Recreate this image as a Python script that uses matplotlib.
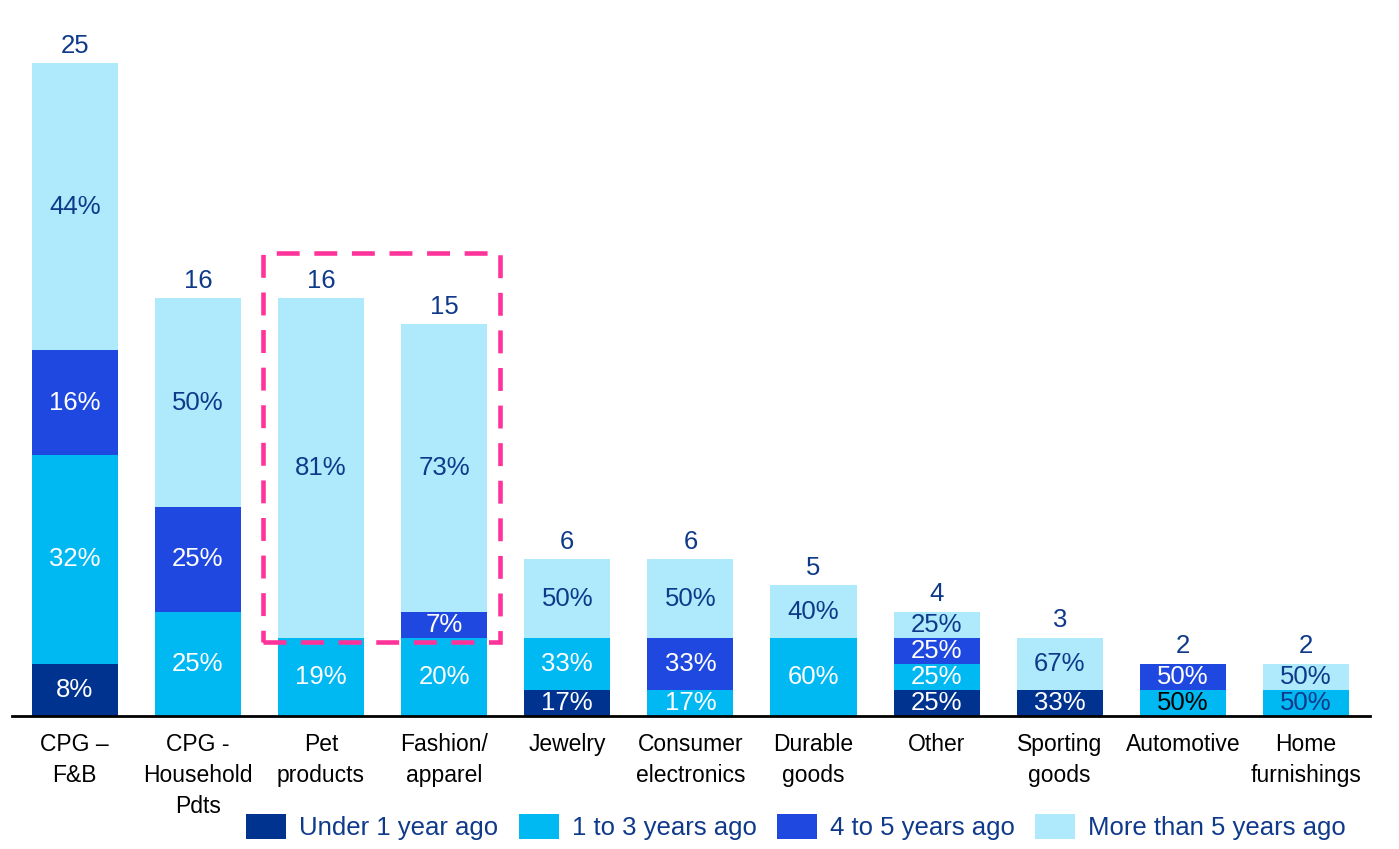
import numpy as np
import matplotlib.pyplot as plt
from matplotlib.patches import Rectangle

plt.rcParams['font.family'] = ['Liberation Sans', 'DejaVu Sans']

categories = ['CPG –\nF&B', 'CPG -\nHousehold\nPdts', 'Pet\nproducts', 'Fashion/\napparel',
              'Jewelry', 'Consumer\nelectronics', 'Durable\ngoods', 'Other',
              'Sporting\ngoods', 'Automotive', 'Home\nfurnishings']
series = ['Under 1 year ago', '1 to 3 years ago', '4 to 5 years ago', 'More than 5 years ago']

# number of companies per bucket
under_1 = [2, 0, 0, 0, 1, 0, 0, 1, 1, 0, 0]
one_to_3 = [8, 4, 3, 3, 2, 1, 3, 1, 0, 1, 1]
four_to_5 = [4, 4, 0, 1, 0, 2, 0, 1, 0, 1, 0]
over_5 = [11, 8, 13, 11, 3, 3, 2, 1, 2, 0, 1]

colors = ['#00338F', '#00B8F2', '#1F48E0', '#AEEAFC']
text_navy = '#0F3A8A'
fs = 18.5

data = np.array([under_1, one_to_3, four_to_5, over_5], dtype=float)
totals = data.sum(axis=0)

fig = plt.figure(figsize=(13.99, 8.49), dpi=100)
ax = fig.add_axes([12 / 1399, 133 / 849, 1358 / 1399, 705 / 849])

x = np.arange(len(categories))
width = 0.70
bottom = np.zeros(len(categories))
for i, (name, col) in enumerate(zip(series, colors)):
    vals = data[i]
    ax.bar(x, vals, width, bottom=bottom, color=col, label=name, linewidth=0)
    for j, v in enumerate(vals):
        if v == 0:
            continue
        pct = round(100 * v / totals[j])
        if i == 3:
            tc = text_navy
        elif i == 1 and categories[j] == 'Automotive':
            tc = 'black'
        elif i == 1 and categories[j] == 'Home\nfurnishings':
            tc = text_navy
        else:
            tc = 'white'
        ax.text(x[j], bottom[j] + v / 2, f'{pct}%', ha='center', va='center',
                fontsize=fs, color=tc)
    bottom += vals

for j, t in enumerate(totals):
    ax.annotate(f'{int(t)}', (x[j], t), xytext=(0, 4), textcoords='offset points',
                ha='center', va='bottom', fontsize=fs, color=text_navy)

# dashed highlight around pet products and fashion
box_l = x[2] - 0.47
box_r = x[3] + 0.455
box_b = bottom[2] - over_5[2] - 0.17
box_t = totals[2] + 1.73
ax.add_patch(Rectangle((box_l, box_b), box_r - box_l, box_t - box_b, fill=False,
                       edgecolor='#FF3399', linewidth=3.3, linestyle=(0, (5, 3.2)),
                       zorder=5, clip_on=False))

ax.set_xlim(-0.51, 10.52)
ax.set_ylim(0, 27)
ax.set_xticks(x)
ax.set_xticklabels(categories, fontsize=16.5, linespacing=1.46, va='top')
ax.tick_params(axis='x', length=0, pad=12)
ax.set_yticks([])
for s in ['top', 'right', 'left']:
    ax.spines[s].set_visible(False)
ax.spines['bottom'].set_linewidth(2)

leg = fig.legend(loc='center', bbox_to_anchor=(0.569, 22 / 849), ncol=4, frameon=False,
                 fontsize=fs, handlelength=1.56, handleheight=1.13, columnspacing=0.8,
                 handletextpad=0.5)
for t in leg.get_texts():
    t.set_color(text_navy)

fig.savefig('out.png', dpi=100)
